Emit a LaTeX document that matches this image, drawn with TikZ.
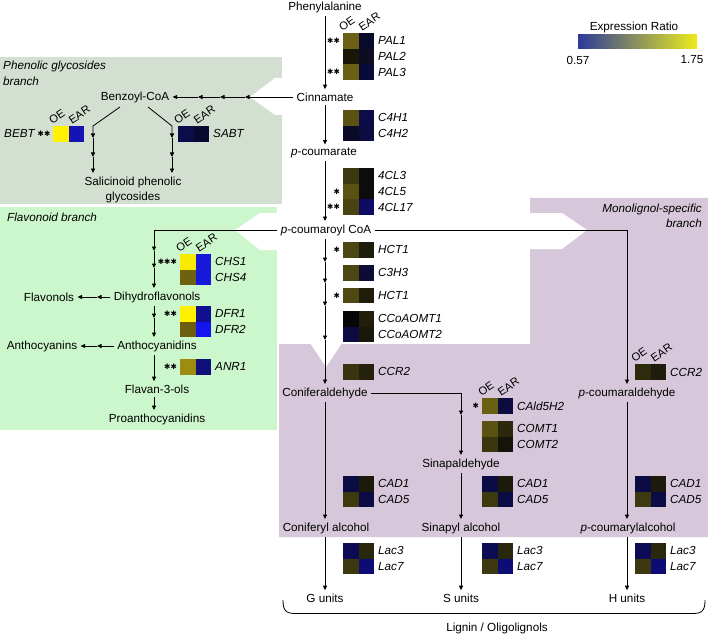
\documentclass[tikz,border=0pt]{standalone}
\usepackage{fontspec}
\setmainfont{Liberation Sans}
\newfontfamily\symfont{DejaVu Sans}
\usetikzlibrary{arrows.meta}
\newcommand\dfs{\fontsize{11.7}{13.5}\selectfont}
\definecolor{bggray}{HTML}{D3DFD1}
\definecolor{bggreen}{HTML}{CCF6CB}
\definecolor{bgpurple}{HTML}{D6C8DA}
\definecolor{legblue}{HTML}{2D3A9C}
\definecolor{legyellow}{HTML}{ECEC1C}
\newcommand\hmpair[4]{%
  \definecolor{hmA}{HTML}{#3}\definecolor{hmB}{HTML}{#4}%
  \fill[hmA] (#1,#2) rectangle ++(15.7,15.6);%
  \fill[hmB] (#1+15.7,#2) rectangle ++(15.7,15.6);%
}
\newcommand\oeear[3]{%
  \node[oel] (#1oe) at (#2-0.5,#3-1.5) {OE};%
  \node[oel] (#1ear) at (#2+19,#3-1.5) {EAR};%
}
\tikzset{
  met/.style={inner sep=1pt, outer sep=2.5pt, font=\dfs},
  gene/.style={inner sep=0pt, anchor=west, font=\dfs\itshape},
  blab/.style={inner sep=0pt, font=\dfs\itshape},
  oel/.style={inner sep=0pt, anchor=south west, rotate=34, font=\fontsize{11.2}{12}\selectfont},
  sig/.style={inner sep=0pt, anchor=east, font=\symfont\fontsize{7.5}{7.5}\selectfont},
  arr/.style={line width=0.8pt, -{Triangle[length=4.5pt,width=4pt]}},
  ln/.style={line width=0.8pt}
}
\begin{document}
\begin{tikzpicture}[x=1pt,y=-1pt]
\useasboundingbox (0,0) rectangle (708,636);
% backgrounds
\fill[bggray] (0,57) rectangle (282,204);
\fill[bggreen] (0,207) rectangle (277,430);
\fill[bgpurple] (530,198) -- (708,198) -- (708,537) -- (279,537) -- (279,344) -- (530,344) -- cycle;
% white block-arrow notches
\fill[white] (283,78) -- (275,78) -- (250,97) -- (275,115) -- (283,115) -- cycle;
\fill[white] (278,213) -- (260,213) -- (235,230) -- (260,250) -- (278,250) -- cycle;
\fill[white] (529,213) -- (562,213) -- (587,230) -- (562,249) -- (529,249) -- cycle;
\fill[white] (310,343) -- (326,367) -- (342,343) -- cycle;
% legend
\node[met] (legt) at (634,27) {Expression Ratio};
\shade[left color=legblue, middle color=black, right color=legyellow] (578,35) rectangle (697,49);
\node[met] (lmin) at (578,60) {0.57};
\node[met] (lmax) at (692,60) {1.75};
% branch labels
\node[blab, anchor=west] (bl1) at (3,66) {Phenolic glycosides};
\node[blab, anchor=west] (bl2) at (3,81) {branch};
\node[blab, anchor=west] (bl3) at (7,217) {Flavonoid branch};
\node[blab, anchor=east] (bl4) at (702,209) {Monolignol-specific};
\node[blab, anchor=east] (bl5) at (702,223) {branch};
% heatmaps central
\hmpair{343}{33}{6B6015}{0A0A2C}
\hmpair{343}{48.6}{1A1608}{0C0C22}
\hmpair{343}{64.2}{6A6015}{0A0A3A}
\hmpair{343}{110}{5A5212}{0C0C48}
\hmpair{343}{125.6}{0A0A28}{0C0C40}
\hmpair{343}{168}{3C3810}{0C0C0A}
\hmpair{343}{183.6}{5A5212}{0C0C0C}
\hmpair{343}{199.2}{4A4412}{0C0C64}
\hmpair{343}{242}{4C4612}{1E1C0A}
\hmpair{343}{265}{4C4612}{0C0C34}
\hmpair{343}{287.5}{504812}{201E0A}
\hmpair{343}{311}{060608}{221E0A}
\hmpair{343}{326.6}{0C0C40}{1A180A}
\hmpair{343}{364}{3A3410}{24220A}
\hmpair{343}{476}{0C0C44}{1C1A0A}
\hmpair{343}{491.6}{3E3A10}{0C0C44}
\hmpair{343}{543}{0C0C54}{2A280C}
\hmpair{343}{558.6}{3E3810}{0C0C74}
% middle
\hmpair{482}{398}{6A6012}{0C0C40}
\hmpair{482}{421}{5A5212}{2C280C}
\hmpair{482}{436.6}{3C3610}{14140A}
\hmpair{482}{476}{0C0C44}{1C1A0A}
\hmpair{482}{491.6}{3E3A10}{0C0C44}
\hmpair{482}{543}{0C0C54}{2A280C}
\hmpair{482}{558.6}{3E3810}{0C0C74}
% right
\hmpair{635}{364}{2E2A0C}{1E1C0A}
\hmpair{635}{476}{0C0C44}{1C1A0A}
\hmpair{635}{491.6}{3E3A10}{0C0C44}
\hmpair{635}{543}{0C0C54}{2A280C}
\hmpair{635}{558.6}{3E3810}{0C0C74}
% left
\hmpair{53}{126}{FFF200}{1414B4}
\hmpair{178}{126}{0C0C48}{080830}
\hmpair{180}{254}{F8EA00}{1818D8}
\hmpair{180}{269.6}{6E6210}{1818D8}
\hmpair{180}{306}{FFF000}{10108E}
\hmpair{180}{321.6}{6E5E10}{1414F0}
\hmpair{180}{359}{9C8C10}{10107A}
% OE / EAR labels
\oeear{pal}{343}{33}
\oeear{bebt}{53}{126}
\oeear{sabt}{178}{126}
\oeear{chs}{180}{254}
\oeear{cald}{482}{398}
\oeear{ccrr}{635}{364}
% gene labels
\node[gene] (gPAL1) at (378,40.8) {PAL1};
\node[gene] (gPAL2) at (378,56.4) {PAL2};
\node[gene] (gPAL3) at (378,72) {PAL3};
\node[gene] (gC4H1) at (378,117.8) {C4H1};
\node[gene] (gC4H2) at (378,133.4) {C4H2};
\node[gene] (g4CL3) at (378,175.8) {4CL3};
\node[gene] (g4CL5) at (378,191.4) {4CL5};
\node[gene] (g4CL17) at (378,207) {4CL17};
\node[gene] (gHCT1) at (378,249.8) {HCT1};
\node[gene] (gC3H3) at (378,272.8) {C3H3};
\node[gene] (gHCT1b) at (378,295.3) {HCT1};
\node[gene] (gCCo1) at (378,318.8) {CCoAOMT1};
\node[gene] (gCCo2) at (378,334.4) {CCoAOMT2};
\node[gene] (gCCR2a) at (378,371.8) {CCR2};
\node[gene] (gCAD1a) at (378,483.8) {CAD1};
\node[gene] (gCAD5a) at (378,499.4) {CAD5};
\node[gene] (gLac3a) at (378,550.8) {Lac3};
\node[gene] (gLac7a) at (378,566.4) {Lac7};
\node[gene] (gCAld) at (517,406.5) {CAld5H2};
\node[gene] (gCOMT1) at (517,428.8) {COMT1};
\node[gene] (gCOMT2) at (517,444.4) {COMT2};
\node[gene] (gCAD1b) at (517,483.8) {CAD1};
\node[gene] (gCAD5b) at (517,499.4) {CAD5};
\node[gene] (gLac3b) at (517,550.8) {Lac3};
\node[gene] (gLac7b) at (517,566.4) {Lac7};
\node[gene] (gCCR2c) at (670,372.5) {CCR2};
\node[gene] (gCAD1c) at (670,483.8) {CAD1};
\node[gene] (gCAD5c) at (670,499.4) {CAD5};
\node[gene] (gLac3c) at (670,550.8) {Lac3};
\node[gene] (gLac7c) at (670,566.4) {Lac7};
\node[gene] (gBEBT) at (4,133.8) {BEBT};
\node[gene] (gSABT) at (213,133.8) {SABT};
\node[gene] (gCHS1) at (215,261.8) {CHS1};
\node[gene] (gCHS4) at (215,277.4) {CHS4};
\node[gene] (gDFR1) at (215,313.8) {DFR1};
\node[gene] (gDFR2) at (215,329.4) {DFR2};
\node[gene] (gANR1) at (215,366.8) {ANR1};
% significance marks
\node[sig] (sPAL1) at (340,40.8) {✱✱};
\node[sig] (sPAL3) at (340,72) {✱✱};
\node[sig] (s4CL5) at (340,191.4) {✱};
\node[sig] (s4CL17) at (340,207) {✱✱};
\node[sig] (sHCT1) at (340,249.8) {✱};
\node[sig] (sHCT1b) at (340,295.3) {✱};
\node[sig] (sCAld) at (479,405.8) {✱};
\node[sig] (sBEBT) at (50.5,133.8) {✱✱};
\node[sig] (sCHS) at (177,261.8) {✱✱✱};
\node[sig] (sDFR) at (177,313.8) {✱✱};
\node[sig] (sANR) at (177,366.8) {✱✱};
% metabolites
\node[met] (phe) at (325,7) {Phenylalanine};
\node[met] (cin) at (325,97) {Cinnamate};
\node[met] (pcou) at (324,153) {\textit{p}-coumarate};
\node[met] (pcoa) at (326,230) {\textit{p}-coumaroyl CoA};
\node[met] (conald) at (325,393) {Coniferaldehyde};
\node[met] (conalc) at (326,528) {Coniferyl alcohol};
\node[met] (gunits) at (325,598) {G units};
\node[met] (sinald) at (461,464) {Sinapaldehyde};
\node[met] (sinalc) at (461,528) {Sinapyl alcohol};
\node[met] (sunits) at (461,598) {S units};
\node[met] (pcald) at (627,393) {\textit{p}-coumaraldehyde};
\node[met] (pcalc) at (628,528) {\textit{p}-coumarylalcohol};
\node[met] (hunits) at (627,598) {H units};
\node[met] (lignin) at (497,628) {Lignin / Oligolignols};
\node[met] (benz) at (135,97) {Benzoyl-CoA};
\node[met, align=center, font=\fontsize{11.7}{15}\selectfont] (sal) at (133,189.5) {Salicinoid phenolic\\glycosides};
\node[met] (dihyd) at (157,297) {Dihydroflavonols};
\node[met] (flavonols) at (49,297) {Flavonols};
\node[met] (anthcy) at (157,346) {Anthocyanidins};
\node[met] (anthns) at (42,346) {Anthocyanins};
\node[met] (flavan) at (157,389) {Flavan-3-ols};
\node[met] (proan) at (157,419) {Proanthocyanidins};
% column axes
\coordinate (cx) at (325,0);
\coordinate (rx) at (627,0);
% central column
\draw[arr] (phe.south -| cx) -- (cin.north -| cx);
\draw[arr] (cin.south -| cx) -- (pcou.north -| cx);
\draw[arr] (pcou.south -| cx) -- (pcoa.north -| cx);
\coordinate (k1) at (325,262);
\coordinate (k2) at (325,283);
\coordinate (k3) at (325,306);
\coordinate (k4) at (325,340);
\draw[arr] (pcoa.south -| cx) -- (k1);
\draw[arr] (k1) -- (k2);
\draw[arr] (k2) -- (k3);
\draw[arr] (k3) -- (k4);
\draw[arr] (k4) -- (conald.north -| cx);
\draw[arr] (conald.south -| cx) -- (conalc.north -| cx);
\draw[arr] (conalc.south -| cx) -- (gunits.north -| cx);
% sinapyl branch
\coordinate (cs1) at (461,393);
\coordinate (cs2) at (461,415);
\draw[ln] (conald) -- (cs1);
\draw[arr] (cs1) -- (cs2);
\draw[arr] (cs2) -- (sinald);
\draw[arr] (sinald) -- (sinalc);
\draw[arr] (sinalc) -- (sunits);
% p-coumaryl branch
\coordinate (rt) at (627,230);
\draw[ln] (pcoa) -- (rt);
\draw[arr] (rt) -- (pcald.north -| rx);
\draw[arr] (pcald.south -| rx) -- (pcalc.north -| rx);
\draw[arr] (pcalc.south -| rx) -- (hunits.north -| rx);
% benzoyl branch
\coordinate (b1) at (245,97);
\coordinate (b2) at (220,97);
\coordinate (b3) at (198,97);
\draw[arr] (cin) -- (b1);
\draw[arr] (b1) -- (b2);
\draw[arr] (b2) -- (b3);
\draw[arr] (b3) -- (benz);
\coordinate (sl0) at (120,107);
\coordinate (sl1) at (93,126);
\coordinate (sl2) at (93,138);
\coordinate (sl3) at (93,157);
\draw[arr] (sl0) -- (sl1) -- (sl2);
\draw[arr] (sl2) -- (sl3);
\draw[arr] (sl3) -- (sl3 |- sal.north);
\coordinate (sr0) at (148,107);
\coordinate (sr1) at (172,126);
\coordinate (sr2) at (172,138);
\coordinate (sr3) at (172,157);
\draw[arr] (sr0) -- (sr1) -- (sr2);
\draw[arr] (sr2) -- (sr3);
\draw[arr] (sr3) -- (sr3 |- sal.north);
% flavonoid branch
\coordinate (lt) at (154,230);
\coordinate (f1) at (154,251);
\coordinate (f2) at (154,268);
\draw[ln] (pcoa) -- (lt);
\draw[arr] (lt) -- (f1);
\draw[arr] (f1) -- (f2);
\draw[arr] (f2) -- (f2 |- dihyd.north);
\coordinate (fv1) at (97,297);
\draw[arr] (dihyd) -- (fv1);
\draw[arr] (fv1) -- (flavonols);
\coordinate (an1) at (97,346);
\draw[arr] (anthcy) -- (an1);
\draw[arr] (an1) -- (anthns);
\coordinate (d1) at (154,318);
\draw[arr] (dihyd.south -| d1) -- (d1);
\draw[arr] (d1) -- (d1 |- anthcy.north);
\draw[arr] (anthcy.south -| d1) -- (d1 |- flavan.north);
\draw[arr] (flavan.south -| d1) -- (d1 |- proan.north);
% brace
\draw[ln] (283,600) .. controls (283,611) and (286,613.5) .. (296,613.5) -- (692,613.5) .. controls (702,613.5) and (705,611) .. (705,600);
\end{tikzpicture}
\end{document}
